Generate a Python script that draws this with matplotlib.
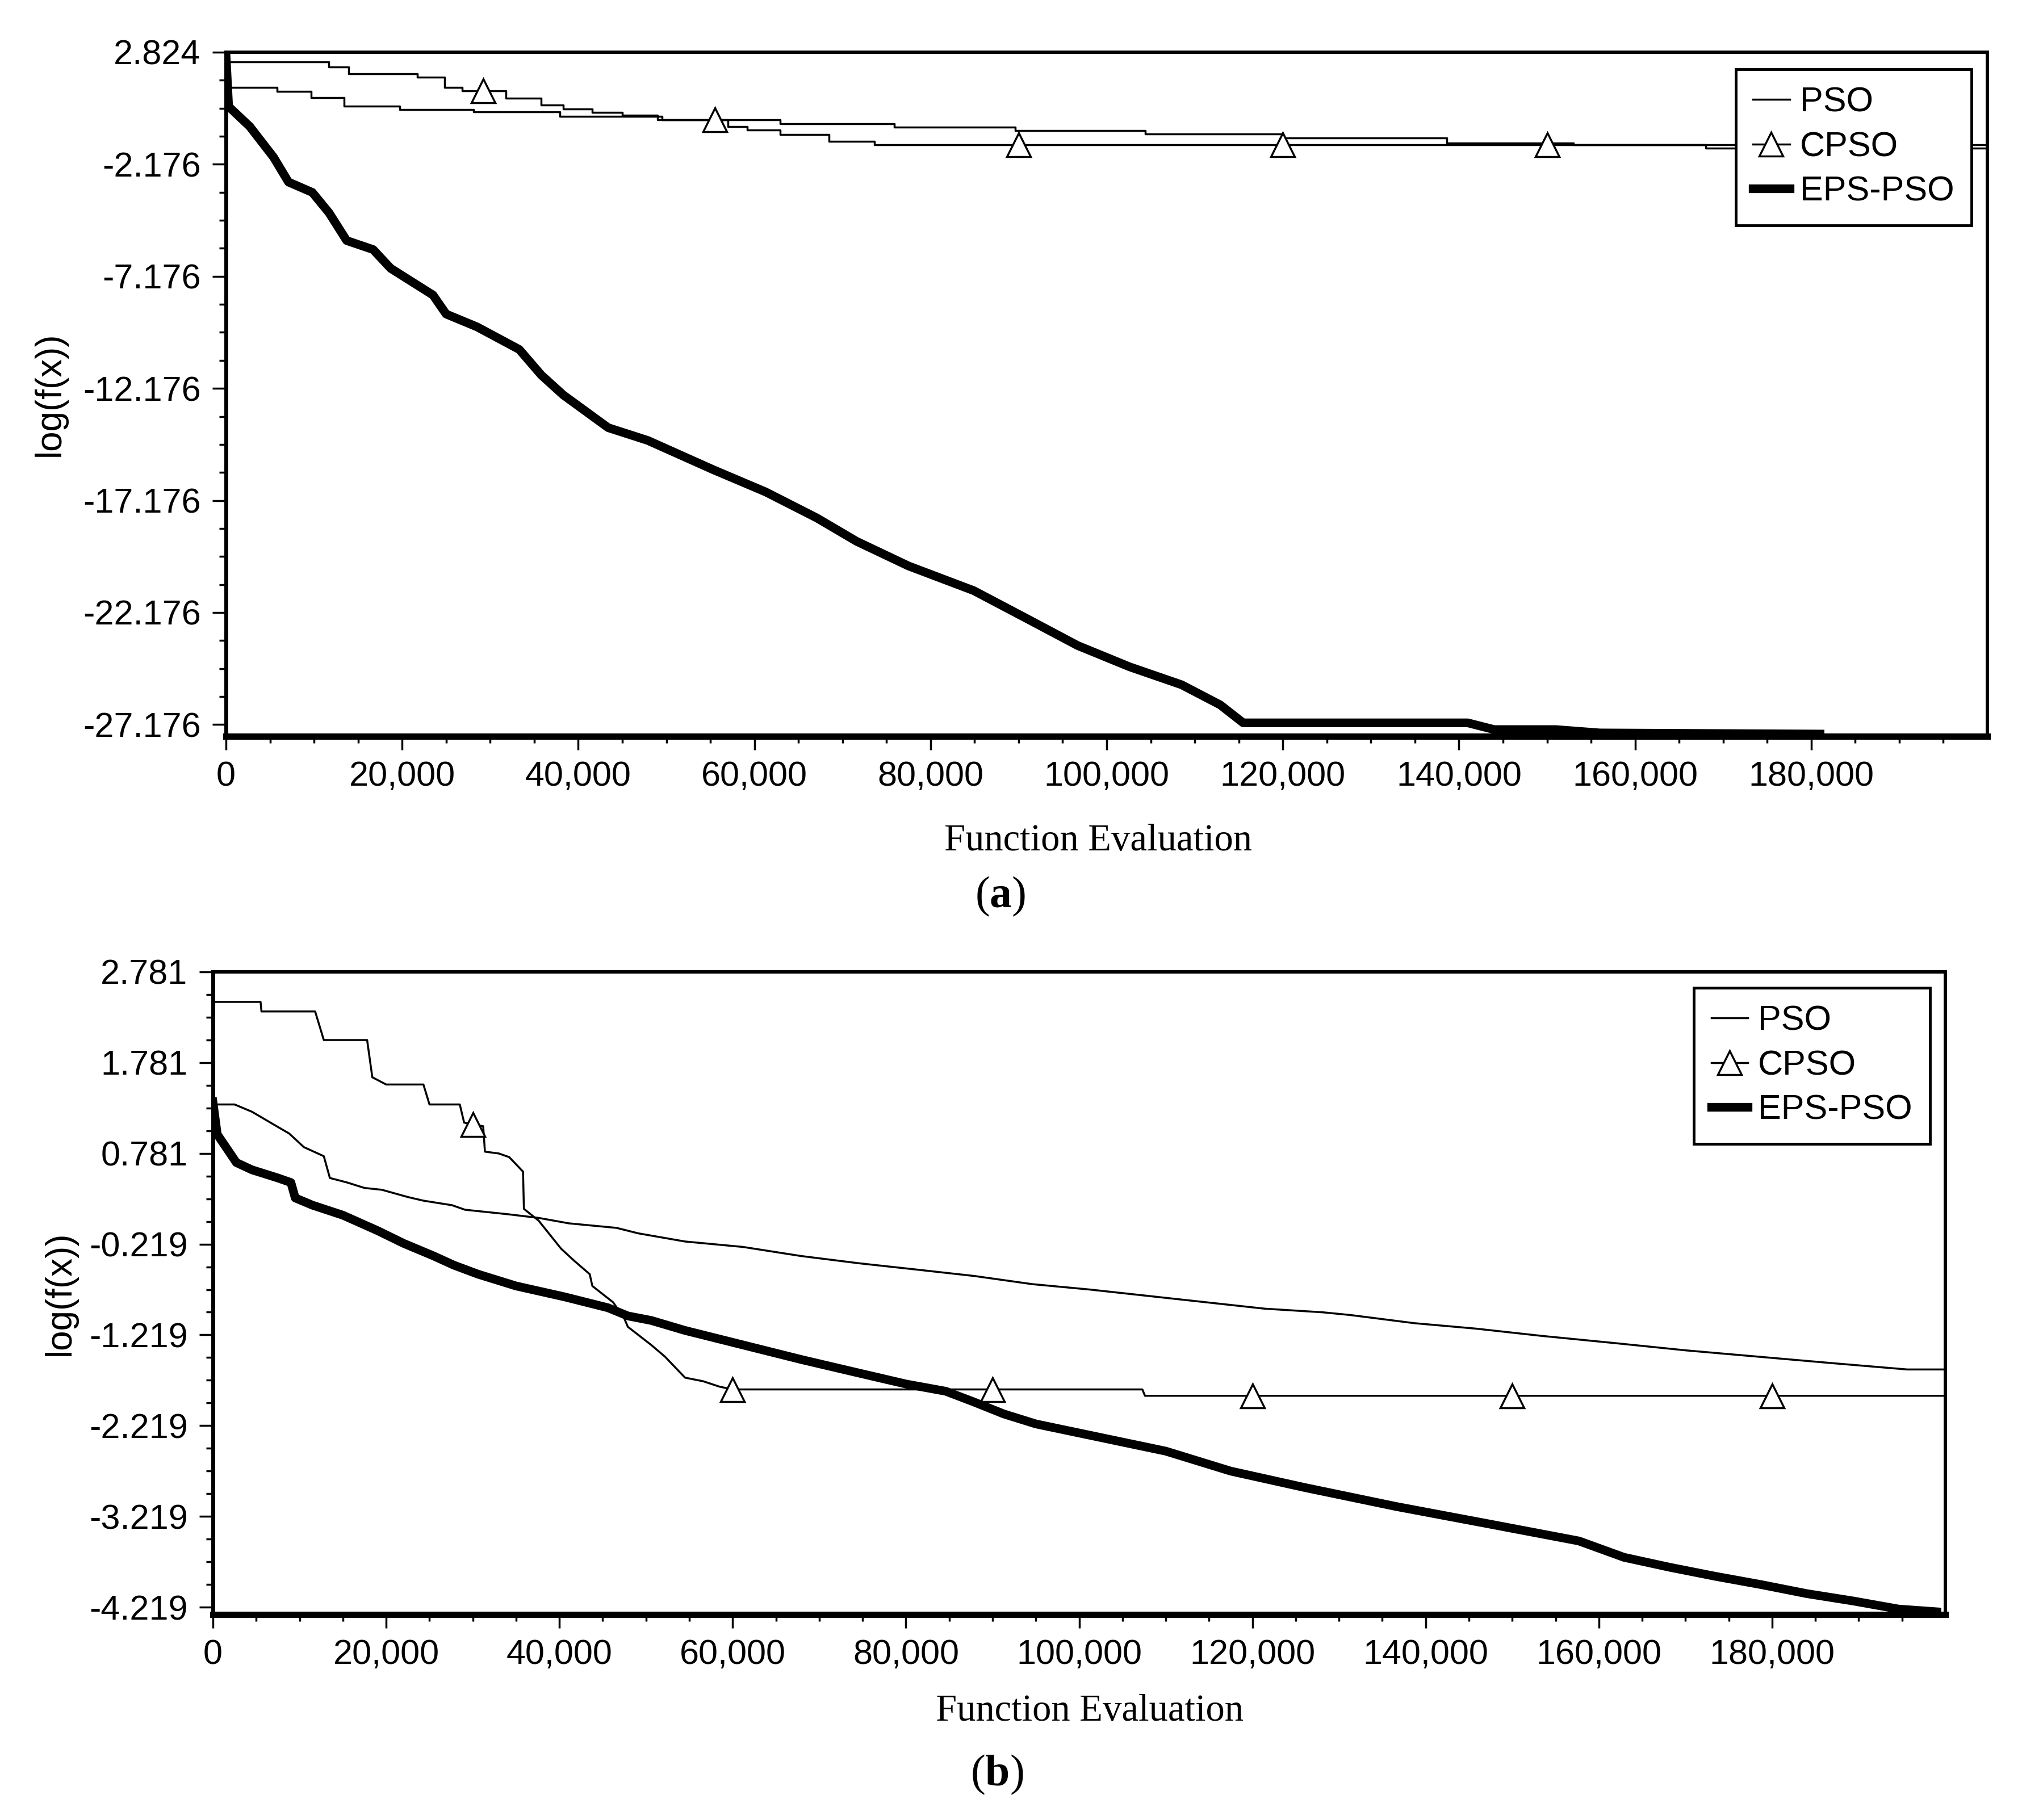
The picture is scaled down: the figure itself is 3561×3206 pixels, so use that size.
import numpy as np
import matplotlib
matplotlib.use('Agg')
import matplotlib.pyplot as plt
from matplotlib.ticker import FixedLocator, FuncFormatter

# ---- panel (a) ----
pso_a_x = [0, 5800, 9700, 13400, 19700, 28100, 37900, 49500, 62900, 75900,
           89600, 104400, 120000, 138600, 153000, 168000, 200000]
pso_a_y = [1.25, 1.08, 0.80, 0.41, 0.27, 0.17, -0.04, -0.19, -0.37, -0.52,
           -0.67, -0.82, -0.99, -1.22, -1.30, -1.45, -1.45]

cpso_a_x = [0, 11700, 13900, 21700, 24800, 26800, 29200, 31800, 35800, 38300,
            41600, 45000, 49000, 55500, 57000, 59200, 62900, 68500, 73600,
            90000, 120000, 150000, 200000]
cpso_a_y = [2.39, 2.16, 1.87, 1.71, 1.25, 1.10, 1.10, 0.78, 0.47, 0.29,
            0.14, 0.01, -0.19, -0.19, -0.49, -0.64, -0.85, -1.15, -1.30,
            -1.30, -1.30, -1.30, -1.30]
cpso_a_marks = [29200, 55500, 90000, 120000, 150000]

eps_a_x = [0, 300, 2700, 5400, 7100, 9800, 11700, 13700, 16700, 18700, 23500,
           25000, 28500, 33300, 35800, 38300, 43400, 47900, 55300, 61300,
           67100, 71600, 77500, 84900, 90700, 96700, 102600, 108500, 112900,
           115500, 141000, 144000, 151000, 156000, 181000]
eps_a_y = [2.72, 0.40, -0.49, -1.86, -2.97, -3.43, -4.34, -5.58, -5.98, -6.82,
           -8.01, -8.86, -9.43, -10.44, -11.58, -12.47, -13.93, -14.50, -15.80,
           -16.80, -17.96, -19.00, -20.10, -21.20, -22.40, -23.65, -24.60,
           -25.40, -26.30, -27.10, -27.10, -27.40, -27.40, -27.55, -27.60]

# ---- panel (b) ----
pso_b_x = [0, 2500, 4500, 7000, 8800, 10500, 12800, 13500, 15500, 17500, 19500,
           22500, 24300, 27600, 29100, 34100, 37600, 41100, 46600, 49100, 54500,
           61200, 67900, 74600, 81300, 87900, 94600, 101300, 108000, 114700,
           121400, 128100, 131300, 138700, 145800, 153400, 161900, 170100,
           178500, 186900, 195600, 200000]
pso_b_y = [1.32, 1.32, 1.24, 1.10, 1.00, 0.85, 0.75, 0.51, 0.46, 0.40, 0.38,
           0.30, 0.26, 0.21, 0.16, 0.11, 0.07, 0.01, -0.04, -0.10, -0.19,
           -0.25, -0.35, -0.43, -0.50, -0.57, -0.66, -0.72, -0.79, -0.86,
           -0.93, -0.97, -1.00, -1.09, -1.15, -1.23, -1.31, -1.39, -1.46,
           -1.53, -1.60, -1.60]

cpso_b_x = [0, 5500, 5600, 11800, 12800, 17800, 18400, 20000, 24300, 25000,
            28500, 29000, 30000, 31200, 31400, 33000, 34200, 35800, 35900,
            37600, 40200, 41800, 43500, 43800, 46200, 47500, 47900, 50600,
            52200, 54500, 56600, 58500, 60000, 90000, 107300, 107600, 120000,
            150000, 180000, 200000]
cpso_b_y = [2.45, 2.45, 2.345, 2.345, 2.03, 2.03, 1.62, 1.54, 1.54, 1.32,
            1.32, 1.12, 1.10, 1.08, 0.80, 0.78, 0.74, 0.58, 0.17,
            0.04, -0.27, -0.41, -0.55, -0.68, -0.86, -1.04, -1.13, -1.33,
            -1.46, -1.69, -1.73, -1.79, -1.82, -1.82, -1.82, -1.89, -1.89,
            -1.89, -1.89, -1.89]
cpso_b_marks = [30000, 60000, 90000, 120000, 150000, 180000]

eps_b_x = [0, 500, 1500, 2700, 4500, 7500, 9000, 9500, 11500, 15000, 19000,
           22000, 25500, 27800, 30600, 35000, 40600, 45600, 47900, 50600,
           54500, 61200, 67900, 74600, 80000, 84600, 87900, 91300, 95000,
           102500, 110000, 117500, 126000, 136600, 147200, 157700, 162900,
           168200, 173500, 178700, 184000, 189300, 194600, 199000]
eps_b_y = [1.35, 0.99, 0.85, 0.68, 0.60, 0.51, 0.46, 0.29, 0.21, 0.10, -0.07,
           -0.21, -0.35, -0.45, -0.55, -0.68, -0.80, -0.92, -1.01, -1.06,
           -1.17, -1.33, -1.49, -1.64, -1.76, -1.84, -1.96, -2.09, -2.20,
           -2.35, -2.50, -2.72, -2.90, -3.11, -3.30, -3.49, -3.67, -3.78,
           -3.88, -3.97, -4.07, -4.15, -4.24, -4.27]

xticks = [0, 20000, 40000, 60000, 80000, 100000, 120000, 140000, 160000, 180000]
yticks_a = [2.824, -2.176, -7.176, -12.176, -17.176, -22.176, -27.176]
yticks_b = [2.781, 1.781, 0.781, -0.219, -1.219, -2.219, -3.219, -4.219]

W, H = 3561, 3206
plt.rcParams['font.family'] = ['Liberation Sans', 'DejaVu Sans']
plt.rcParams['mathtext.fontset'] = 'custom'
plt.rcParams['mathtext.rm'] = 'Liberation Serif'
plt.rcParams['mathtext.bf'] = 'Liberation Serif:bold'

fig = plt.figure(figsize=(W / 100, H / 100), dpi=100)


def box(l, t, r, b):
    return [l / W, 1 - b / H, (r - l) / W, (b - t) / H]


def marker_idx(xs, marks):
    return [i for i, v in enumerate(xs) if v in marks]


def panel(ax, pso, cpso, eps, marks, steps, yticks, ylim, ystep):
    ds = 'steps-post' if steps else 'default'
    ax.plot(pso[0], pso[1], color='black', lw=2.5, drawstyle=ds, label='PSO')
    ax.plot(cpso[0], cpso[1], color='black', lw=2.5, drawstyle=ds,
            marker='^', ms=30, mfc='white', mec='black', mew=2.5,
            markevery=marker_idx(cpso[0], marks), label='CPSO')
    ax.plot(eps[0], eps[1], color='black', lw=11, label='EPS-PSO')

    ax.set_xlim(0, 200000)
    ax.set_ylim(*ylim)
    ax.xaxis.set_major_locator(FixedLocator(xticks))
    ax.xaxis.set_minor_locator(FixedLocator(np.arange(0, 200000, 5000)))
    ax.xaxis.set_major_formatter(FuncFormatter(lambda v, p: f'{v:,.0f}'))
    ax.yaxis.set_major_locator(FixedLocator(yticks))
    ax.yaxis.set_minor_locator(FixedLocator(
        np.arange(yticks[0], ylim[0], -ystep)))
    ax.yaxis.set_major_formatter(FuncFormatter(lambda v, p: f'{v:.3f}'))
    ax.tick_params(which='major', direction='out', length=17, width=2.5,
                   labelsize=44)
    ax.tick_params(axis='x', which='major', pad=14)
    ax.tick_params(axis='y', which='major', pad=15)
    ax.tick_params(which='minor', direction='out', length=8.5, width=2.5)
    for s in ['top', 'right']:
        ax.spines[s].set_linewidth(4.3)
    ax.spines['left'].set_linewidth(5)
    ax.spines['bottom'].set_linewidth(8)

    leg = ax.legend(loc='upper right', bbox_to_anchor=(0.991, 0.975),
                    borderaxespad=0, fancybox=False, framealpha=1,
                    edgecolor='black', fontsize=44, numpoints=1,
                    handlelength=1.05, handletextpad=0.3, borderpad=0.5,
                    labelspacing=0.35)
    leg.get_frame().set_linewidth(3.5)


ax1 = fig.add_axes(box(398, 92, 3500, 1297))
panel(ax1, (pso_a_x, pso_a_y), (cpso_a_x, cpso_a_y), (eps_a_x, eps_a_y),
      cpso_a_marks, True, yticks_a, (-27.7, 2.824), 1.25)

ax2 = fig.add_axes(box(375, 1712, 3426, 2844))
panel(ax2, (pso_b_x, pso_b_y), (cpso_b_x, cpso_b_y), (eps_b_x, eps_b_y),
      cpso_b_marks, False, yticks_b, (-4.3, 2.781), 0.25)

serif = 'Liberation Serif'
fig.text(1934 / W, 1 - 1498 / H, 'Function Evaluation', ha='center',
         va='baseline', fontsize=48, family=serif)
fig.text(1919 / W, 1 - 3031 / H, 'Function Evaluation', ha='center',
         va='baseline', fontsize=48, family=serif)
fig.text(88 / W, 1 - 694 / H, 'log(f(x))', rotation=90, ha='center',
         va='center', fontsize=46)
fig.text(106 / W, 1 - 2278 / H, 'log(f(x))', rotation=90, ha='center',
         va='center', fontsize=46)
fig.text(1762 / W, 1 - 1598 / H, '(' + r'$\mathbf{a}$' + ')', ha='center',
         va='baseline', fontsize=56, family=serif)
fig.text(1756 / W, 1 - 3145 / H, '(' + r'$\mathbf{b}$' + ')', ha='center',
         va='baseline', fontsize=56, family=serif)

fig.savefig('out.png', dpi=100)
